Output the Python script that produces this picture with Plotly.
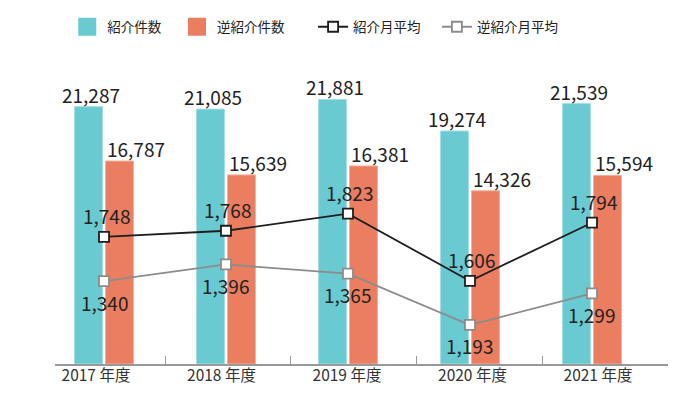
import plotly.graph_objects as go

years = ["2017 年度", "2018 年度", "2019 年度", "2020 年度", "2021 年度"]
referrals = [21287, 21085, 21881, 19274, 21539]
reverse_referrals = [16787, 15639, 16381, 14326, 15594]
referral_monthly = [1748, 1768, 1823, 1606, 1794]
reverse_monthly = [1340, 1396, 1365, 1193, 1299]

TEAL = "#69CAD1"
ORANGE = "#EB7D60"
FONT = "Noto Sans CJK JP"
x = list(range(len(years)))

def fmt(v):
    return f"{v:,}"

fig = go.Figure()
fig.add_trace(go.Bar(x=x, y=referrals, marker=dict(color=TEAL, line=dict(color="#A5DDE2", width=1)),
                     showlegend=False, hoverinfo="skip"))
fig.add_trace(go.Bar(x=x, y=reverse_referrals, marker=dict(color=ORANGE, line=dict(color="#F3AE9A", width=1)),
                     showlegend=False, hoverinfo="skip"))

# legend proxies (also anchor the label axis)
fig.add_trace(go.Scatter(x=[None], y=[None], xaxis="x2", mode="markers", name="紹介件数", legend="legend",
                         marker=dict(symbol="square", size=16, color=TEAL, line=dict(color=TEAL, width=2))))
fig.add_trace(go.Scatter(x=[None], y=[None], xaxis="x2", mode="markers", name="逆紹介件数", legend="legend2",
                         marker=dict(symbol="square", size=16, color=ORANGE, line=dict(color=ORANGE, width=2))))

fig.add_trace(go.Scatter(x=x, y=referral_monthly, yaxis="y2", name="紹介月平均", legend="legend3",
                         mode="lines+markers", hoverinfo="skip",
                         line=dict(color="#1E1E1E", width=1.8),
                         marker=dict(symbol="square", size=10, color="white", line=dict(color="#1E1E1E", width=1.8))))
fig.add_trace(go.Scatter(x=x, y=reverse_monthly, yaxis="y3", name="逆紹介月平均", legend="legend4",
                         mode="lines+markers", hoverinfo="skip",
                         line=dict(color="#8C8C8C", width=1.8),
                         marker=dict(symbol="square", size=10, color="white", line=dict(color="#8C8C8C", width=1.8))))

label_font = dict(size=19, color="#222", family=FONT)
annotations = []
for i in x:
    annotations.append(dict(x=i, y=referrals[i], xref="x", yref="y", text=fmt(referrals[i]),
                            showarrow=False, yanchor="bottom", xshift=-13, yshift=-3, font=label_font))
    annotations.append(dict(x=i, y=reverse_referrals[i], xref="x", yref="y", text=fmt(reverse_referrals[i]),
                            showarrow=False, yanchor="bottom", xshift=32, yshift=-3, font=label_font))
    annotations.append(dict(x=i, y=referral_monthly[i], xref="x", yref="y2", text=fmt(referral_monthly[i]),
                            showarrow=False, yanchor="middle", xshift=2, yshift=21, font=label_font))
    annotations.append(dict(x=i, y=reverse_monthly[i], xref="x", yref="y3", text=fmt(reverse_monthly[i]),
                            showarrow=False, yanchor="middle", xshift=0, yshift=-21, font=label_font))

leg_common = dict(orientation="h", y=1.1086, yanchor="middle", xanchor="left",
                  font=dict(size=13.5, color="#222", family=FONT), itemsizing="trace",
                  bgcolor="rgba(0,0,0,0)")

# page body has an 8px margin, so the figure is 8px smaller and margins compensate
fig.update_layout(
    width=692, height=387,
    margin=dict(l=47, r=32, t=52, b=31, autoexpand=False),
    paper_bgcolor="white", plot_bgcolor="white",
    barmode="group", bargap=0.492, bargroupgap=0.1,
    font=dict(family=FONT, color="#333"),
    showlegend=True,
    legend=dict(x=0.020, **leg_common),
    legend2=dict(x=0.199, **leg_common),
    legend3=dict(x=0.421, **leg_common),
    legend4=dict(x=0.623, **leg_common),
    xaxis=dict(range=[-0.4016, 4.623], showticklabels=False, ticks="",
               showline=True, linecolor="#999", linewidth=1.5, showgrid=False, zeroline=False,
               automargin=False),
    xaxis2=dict(range=[-0.3267, 4.558], overlaying="x", anchor="y", side="bottom",
                tickmode="array", tickvals=x, ticktext=years, ticks="",
                minor=dict(tickmode="array", tickvals=[0.55, 1.55, 2.555, 3.555],
                           ticks="inside", ticklen=8, tickcolor="#999", tickwidth=1),
                showline=False, showgrid=False, zeroline=False, automargin=False,
                tickfont=dict(size=15.5, color="#333", family=FONT)),
    yaxis=dict(range=[0, 25145], visible=False, showgrid=False, zeroline=False),
    yaxis2=dict(range=[1338, 2319], overlaying="y", visible=False, showgrid=False, zeroline=False),
    yaxis3=dict(range=[1062, 2082], overlaying="y", visible=False, showgrid=False, zeroline=False),
    annotations=annotations,
)

fig.write_html("out.html")
